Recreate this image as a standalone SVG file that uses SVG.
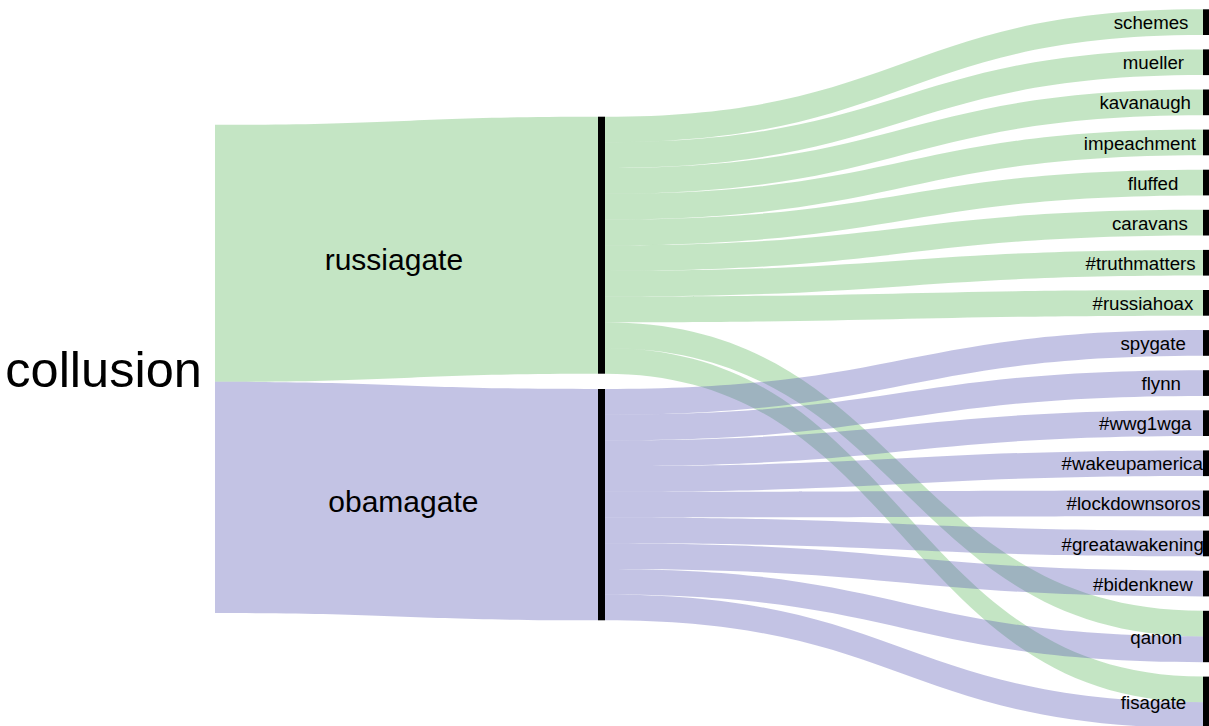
<svg xmlns="http://www.w3.org/2000/svg" width="1209" height="726" viewBox="0 0 1209 726">
  <style>
    .bg { fill: #ffffff; }
    .lk-r { fill: rgba(44,160,44,0.28); }
    .lk-o { fill: rgba(97,97,184,0.38); }
    .bar { fill: #000000; }
    text { font-family: "Liberation Sans", Arial, sans-serif; fill: #000000; }
    .lbl { font-size: 18.7px; }
    .mid { font-size: 30px; }
    .root { font-size: 50.5px; }
  </style>
  <rect class="bg" x="0" y="0" width="1209" height="726"/>

  <!-- flows: each band is a filled ribbon, control points at the horizontal midpoint -->
  <g id="links">
    <!-- collusion -> second column -->
    <path class="lk-r" d="M215,124.8 C406.5,124.8 406.5,116.7 598,116.7 L598,373.7 C406.5,373.7 406.5,381.8 215,381.8 Z"/>
    <path class="lk-o" d="M215,381.8 C406.5,381.8 406.5,389 598,389 L598,620.3 C406.5,620.3 406.5,613.1 215,613.1 Z"/>

    <!-- russiagate -> terms -->
    <path class="lk-r" d="M605,116.7 C904,116.7 904,9.3 1203,9.3 L1203,35 C904,35 904,142.4 605,142.4 Z"/>
    <path class="lk-r" d="M605,142.4 C904,142.4 904,49.4 1203,49.4 L1203,75.1 C904,75.1 904,168.1 605,168.1 Z"/>
    <path class="lk-r" d="M605,168.1 C904,168.1 904,89.5 1203,89.5 L1203,115.2 C904,115.2 904,193.8 605,193.8 Z"/>
    <path class="lk-r" d="M605,193.8 C904,193.8 904,129.6 1203,129.6 L1203,155.3 C904,155.3 904,219.5 605,219.5 Z"/>
    <path class="lk-r" d="M605,219.5 C904,219.5 904,169.7 1203,169.7 L1203,195.4 C904,195.4 904,245.2 605,245.2 Z"/>
    <path class="lk-r" d="M605,245.2 C904,245.2 904,209.8 1203,209.8 L1203,235.5 C904,235.5 904,270.9 605,270.9 Z"/>
    <path class="lk-r" d="M605,270.9 C904,270.9 904,249.9 1203,249.9 L1203,275.6 C904,275.6 904,296.6 605,296.6 Z"/>
    <path class="lk-r" d="M605,296.6 C904,296.6 904,290 1203,290 L1203,315.7 C904,315.7 904,322.3 605,322.3 Z"/>
    <path class="lk-r" d="M605,322.3 C904,322.3 904,610.8 1203,610.8 L1203,636.5 C904,636.5 904,348 605,348 Z"/>
    <path class="lk-r" d="M605,348 C904,348 904,676.6 1203,676.6 L1203,702.3 C904,702.3 904,373.7 605,373.7 Z"/>

    <!-- obamagate -> terms -->
    <path class="lk-o" d="M605,389 C904,389 904,330.1 1203,330.1 L1203,355.8 C904,355.8 904,414.7 605,414.7 Z"/>
    <path class="lk-o" d="M605,414.7 C904,414.7 904,370.2 1203,370.2 L1203,395.9 C904,395.9 904,440.4 605,440.4 Z"/>
    <path class="lk-o" d="M605,440.4 C904,440.4 904,410.3 1203,410.3 L1203,436 C904,436 904,466.1 605,466.1 Z"/>
    <path class="lk-o" d="M605,466.1 C904,466.1 904,450.4 1203,450.4 L1203,476.1 C904,476.1 904,491.8 605,491.8 Z"/>
    <path class="lk-o" d="M605,491.8 C904,491.8 904,490.5 1203,490.5 L1203,516.2 C904,516.2 904,517.5 605,517.5 Z"/>
    <path class="lk-o" d="M605,517.5 C904,517.5 904,530.6 1203,530.6 L1203,556.3 C904,556.3 904,543.2 605,543.2 Z"/>
    <path class="lk-o" d="M605,543.2 C904,543.2 904,570.7 1203,570.7 L1203,596.4 C904,596.4 904,568.9 605,568.9 Z"/>
    <path class="lk-o" d="M605,568.9 C904,568.9 904,636.5 1203,636.5 L1203,662.2 C904,662.2 904,594.6 605,594.6 Z"/>
    <path class="lk-o" d="M605,594.6 C904,594.6 904,702.3 1203,702.3 L1203,728 C904,728 904,620.3 605,620.3 Z"/>
  </g>

  <!-- first column -->
  <g id="node-collusion">
    <text class="root" x="5.3" y="386.7">collusion</text>
  </g>

  <!-- second column -->
  <g id="node-russiagate">
    <rect class="bar" x="598" y="116.7" width="7" height="257"/>
    <text class="mid" x="324.7" y="270">russiagate</text>
  </g>
  <g id="node-obamagate">
    <rect class="bar" x="598" y="389" width="7" height="231.3"/>
    <text class="mid" x="328.3" y="511.7">obamagate</text>
  </g>

  <!-- third column -->
  <g id="node-schemes">
    <rect class="bar" x="1203" y="9.3" width="7" height="25.7"/>
    <text class="lbl" x="1113.7" y="29.2">schemes</text>
  </g>
  <g id="node-mueller">
    <rect class="bar" x="1203" y="49.4" width="7" height="25.7"/>
    <text class="lbl" x="1122.8" y="69.3">mueller</text>
  </g>
  <g id="node-kavanaugh">
    <rect class="bar" x="1203" y="89.5" width="7" height="25.7"/>
    <text class="lbl" x="1099.5" y="109.4">kavanaugh</text>
  </g>
  <g id="node-impeachment">
    <rect class="bar" x="1203" y="129.6" width="7" height="25.7"/>
    <text class="lbl" x="1083.8" y="149.5">impeachment</text>
  </g>
  <g id="node-fluffed">
    <rect class="bar" x="1203" y="169.7" width="7" height="25.7"/>
    <text class="lbl" x="1127.8" y="189.6">fluffed</text>
  </g>
  <g id="node-caravans">
    <rect class="bar" x="1203" y="209.8" width="7" height="25.7"/>
    <text class="lbl" x="1112" y="229.7">caravans</text>
  </g>
  <g id="node-truthmatters">
    <rect class="bar" x="1203" y="249.9" width="7" height="25.7"/>
    <text class="lbl" x="1085.5" y="269.8">#truthmatters</text>
  </g>
  <g id="node-russiahoax">
    <rect class="bar" x="1203" y="290" width="7" height="25.7"/>
    <text class="lbl" x="1092.5" y="309.9">#russiahoax</text>
  </g>
  <g id="node-spygate">
    <rect class="bar" x="1203" y="330.1" width="7" height="25.7"/>
    <text class="lbl" x="1120.4" y="350">spygate</text>
  </g>
  <g id="node-flynn">
    <rect class="bar" x="1203" y="370.2" width="7" height="25.7"/>
    <text class="lbl" x="1141.5" y="390.1">flynn</text>
  </g>
  <g id="node-wwg1wga">
    <rect class="bar" x="1203" y="410.3" width="7" height="25.7"/>
    <text class="lbl" x="1099" y="430.2">#wwg1wga</text>
  </g>
  <g id="node-wakeupamerica">
    <rect class="bar" x="1203" y="450.4" width="7" height="25.7"/>
    <text class="lbl" x="1061.5" y="470.3">#wakeupamerica</text>
  </g>
  <g id="node-lockdownsoros">
    <rect class="bar" x="1203" y="490.5" width="7" height="25.7"/>
    <text class="lbl" x="1066.5" y="510.4">#lockdownsoros</text>
  </g>
  <g id="node-greatawakening">
    <rect class="bar" x="1203" y="530.6" width="7" height="25.7"/>
    <text class="lbl" x="1061.5" y="550.5">#greatawakening</text>
  </g>
  <g id="node-bidenknew">
    <rect class="bar" x="1203" y="570.7" width="7" height="25.7"/>
    <text class="lbl" x="1093" y="590.6">#bidenknew</text>
  </g>
  <g id="node-qanon">
    <rect class="bar" x="1203" y="610.8" width="7" height="51.4"/>
    <text class="lbl" x="1130.3" y="644">qanon</text>
  </g>
  <g id="node-fisagate">
    <rect class="bar" x="1203" y="676.6" width="7" height="51.4"/>
    <text class="lbl" x="1120.8" y="709">fisagate</text>
  </g>
</svg>
